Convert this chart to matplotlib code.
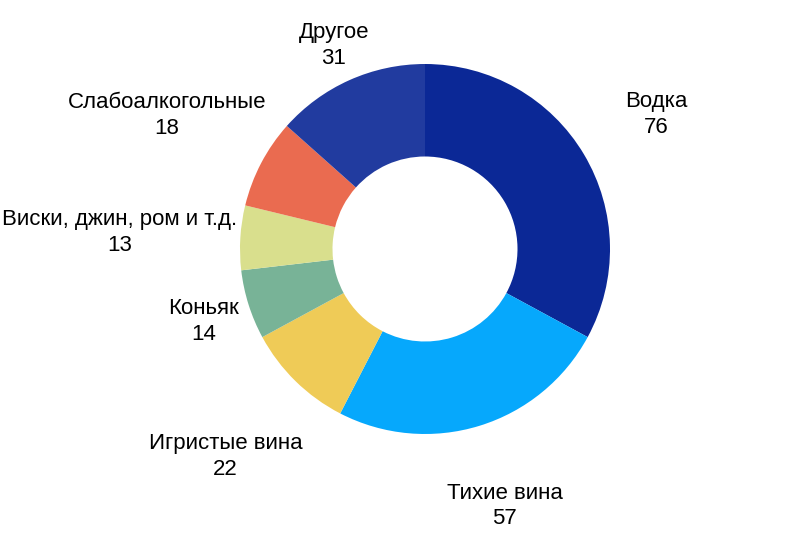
import numpy as np
import matplotlib
matplotlib.use("Agg")
import matplotlib.pyplot as plt
from matplotlib.transforms import offset_copy

categories = ["Водка", "Тихие вина", "Игристые вина", "Коньяк",
              "Виски, джин, ром и т.д.", "Слабоалкогольные", "Другое"]
values = [76, 57, 22, 14, 13, 18, 31]
colors = ["#0b2896", "#06a8fc", "#efcb57", "#78b397",
          "#d9df8d", "#ea6b50", "#213b9f"]
label_dist = [1.45, 1.44, 1.55, 1.26, 1.66, 1.58, 1.22]

plt.rcParams['font.family'] = ['Liberation Sans', 'DejaVu Sans']

W, H = 792, 544
fig = plt.figure(figsize=(W / 100, H / 100), dpi=100)
cx, cy, R = 425, 249, 185
ax = fig.add_axes([(cx - R) / W, (H - cy - R) / H, 2 * R / W, 2 * R / H])

wedges, _ = ax.pie(values, colors=colors, startangle=90, counterclock=False,
                   radius=1.0, wedgeprops=dict(width=0.5, linewidth=0))
ax.set_xlim(-1, 1)
ax.set_ylim(-1, 1)
ax.set_aspect('equal')
ax.axis('off')

tr = offset_copy(ax.transData, fig=fig, x=1, y=-2.5, units='dots')
for w, cat, val, d in zip(wedges, categories, values, label_dist):
    ang = np.deg2rad((w.theta1 + w.theta2) / 2)
    x, y = d * np.cos(ang), d * np.sin(ang)
    ax.text(x, y, f"{cat}\n{val}", ha='center', va='center', fontsize=16,
            linespacing=1.3, color='#000000', clip_on=False, transform=tr)

fig.savefig("out.png", dpi=100, facecolor='white')
